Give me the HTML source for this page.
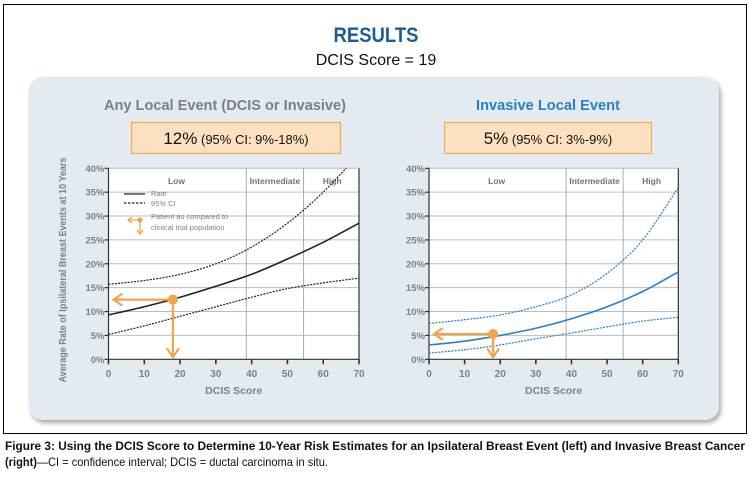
<!DOCTYPE html>
<html><head><meta charset="utf-8"><style>
html,body{margin:0;padding:0;background:#fff;width:753px;height:482px;overflow:hidden}
svg{display:block;font-family:"Liberation Sans",sans-serif}
</style></head><body>
<svg id="fig" width="753" height="482" viewBox="0 0 753 482">
<defs>
<filter id="sh" x="-5%" y="-5%" width="110%" height="115%"><feDropShadow dx="2" dy="3" stdDeviation="2.5" flood-color="#000" flood-opacity="0.35"/></filter>
<clipPath id="clipL"><rect x="108" y="168" width="252" height="192"/></clipPath>
<clipPath id="clipR"><rect x="429" y="168" width="250" height="192"/></clipPath>
</defs>
<rect x="3.5" y="4.5" width="743" height="429" fill="#fff" stroke="#000" stroke-width="1"/>
<text x="376" y="42" text-anchor="middle" font-size="21" font-weight="bold" fill="#1b5e93" textLength="85" lengthAdjust="spacingAndGlyphs">RESULTS</text>
<text x="376" y="65" text-anchor="middle" font-size="16" fill="#111">DCIS Score = 19</text>
<rect x="29" y="77" width="690" height="343" rx="14" fill="#e3ebf1" filter="url(#sh)"/>
<text x="225" y="110" text-anchor="middle" font-size="15" font-weight="bold" fill="#7c7f83" textLength="242" lengthAdjust="spacingAndGlyphs">Any Local Event (DCIS or Invasive)</text>
<text x="548" y="110" text-anchor="middle" font-size="15" font-weight="bold" fill="#2a7fc1" textLength="144" lengthAdjust="spacingAndGlyphs">Invasive Local Event</text>
<rect x="131.5" y="122.5" width="209" height="31" fill="#fde0bf" stroke="#f3a95a" stroke-width="1.2"/>
<text x="236" y="144" text-anchor="middle" fill="#111"><tspan font-size="17">12%</tspan><tspan font-size="13"> (95% CI: 9%-18%)</tspan></text>
<rect x="444.5" y="122.5" width="207" height="31" fill="#fde0bf" stroke="#f3a95a" stroke-width="1.2"/>
<text x="548" y="144" text-anchor="middle" fill="#111"><tspan font-size="17">5%</tspan><tspan font-size="13"> (95% CI: 3%-9%)</tspan></text>
<g id="left"></g>
<g id="right"></g>
<text x="5" y="450" font-size="12" font-weight="bold" fill="#111" textLength="740" lengthAdjust="spacingAndGlyphs">Figure 3: Using the DCIS Score to Determine 10-Year Risk Estimates for an Ipsilateral Breast Event (left) and Invasive Breast Cancer</text>
<text x="5" y="466" font-size="12" fill="#111" textLength="323" lengthAdjust="spacingAndGlyphs"><tspan font-weight="bold">(right)</tspan>—CI = confidence interval; DCIS = ductal carcinoma in situ.</text>
</svg>
<script>
const scores = [0,10,20,30,40,50,60,70];
const leftRate = [9.3,11,13,15.3,17.8,21,24.5,28.5];
const leftUpper = [15.7,16.5,17.8,20,23.5,28.5,35,43];
const leftLower = [5.2,7,9,11,13,14.8,16,17];
const rightRate = [3,3.8,5,6.5,8.5,11,14.2,18.3];
const rightUpper = [7.5,8.3,9.3,11,13.5,18,25,36];
const rightLower = [1.3,2,3,4.3,5.5,6.8,8,8.8];
const xTicks = [0,10,20,30,40,50,60,70];
const yTicks = [0,5,10,15,20,25,30,35,40];
const categoryBounds = [38.5,54.5];
const categoryLabels = ["Low","Intermediate","High"];
const categoryCenters = [19,46.5,62.5];
const leftPatient = [18,12.5];
const rightPatient = [18,5.3];
const NS="http://www.w3.org/2000/svg";
function mk(tag,attrs,parent){const e=document.createElementNS(NS,tag);for(const k in attrs)e.setAttribute(k,attrs[k]);parent.appendChild(e);return e;}
function smooth(pts){let d="M"+pts[0][0]+","+pts[0][1];for(let i=0;i<pts.length-1;i++){const p0=pts[Math.max(0,i-1)],p1=pts[i],p2=pts[i+1],p3=pts[Math.min(pts.length-1,i+2)];const c1=[p1[0]+(p2[0]-p0[0])/6,p1[1]+(p2[1]-p0[1])/6],c2=[p2[0]-(p3[0]-p1[0])/6,p2[1]-(p3[1]-p1[1])/6];d+=" C"+c1+" "+c2+" "+p2;}return d;}
function chart(g,x0,x1,clip,color,rate,upper,lower,patient,legend){
  const y0=359.3,y1=168.3;
  const X=v=>x0+(x1-x0)*v/70, Y=v=>y0+(y1-y0)*v/40;
  const bg=mk('rect',{x:x0,y:y1,width:x1-x0,height:y0-y1,fill:'#fff'},g);
  
  
  yTicks.forEach(t=>{
    if(t>0){const l=mk('line',{x1:x0,x2:x1,y1:Y(t),y2:Y(t),stroke:'#b9bcc0','stroke-width':1},g);
    
    }
    const tk=mk('line',{x1:x0-4,x2:x0,y1:Y(t),y2:Y(t),stroke:'#333','stroke-width':1.2},g);
    
    
    const tx=mk('text',{x:x0-4,y:Y(t)+3.5,'text-anchor':'end','font-size':9.5,'font-weight':'bold',fill:'#7d8186'},g);tx.textContent=t+'%';
    
    
  });
  categoryBounds.forEach(b=>{const l=mk('line',{x1:X(b),x2:X(b),y1:y1,y2:y0,stroke:'#aaadb1','stroke-width':1},g);
    
    });
  categoryLabels.forEach((c,i)=>{const t=mk('text',{x:X(categoryCenters[i]),y:184,'text-anchor':'middle','font-size':8.5,'font-weight':'bold',fill:'#6f7378'},g);t.textContent=c;
    
    });
  const ax=mk('path',{d:`M${x0},${y1}V${y0}H${x1}V${y1}`,fill:'none',stroke:'#333','stroke-width':1.2},g);
  
  
  xTicks.forEach(t=>{const l=mk('line',{x1:X(t),x2:X(t),y1:y0,y2:y0+5,stroke:'#333','stroke-width':1.6},g);
    
    
    const tx=mk('text',{x:X(t),y:377,'text-anchor':'middle','font-size':10,'font-weight':'bold',fill:'#7d8186'},g);tx.textContent=t;
    
    });
  const xt=mk('text',{x:(x0+x1)/2,y:394,'text-anchor':'middle','font-size':10.5,'font-weight':'bold',fill:'#7d8186'},g);xt.textContent='DCIS Score';
  
  
  const cg=mk('g',{'clip-path':`url(#${clip})`},g);
  [[upper,'upper-ci-line'],[lower,'lower-ci-line']].forEach(([s,n])=>{const p=mk('path',{d:smooth(scores.map((v,i)=>[X(v),Y(s[i])])),fill:'none',stroke:color,'stroke-width':1.2,'stroke-dasharray':'2,1.2'},cg);
    
    });
  const r=mk('path',{d:smooth(scores.map((v,i)=>[X(v),Y(rate[i])])),fill:'none',stroke:color,'stroke-width':1.6},cg);
  
  
  const px=X(patient[0]),py=Y(patient[1]),o='#f6a24b';
  const a1=mk('path',{d:`M${px},${py}H${x0+6} M${x0+14},${py-6}L${x0+5},${py}L${x0+14},${py+6} M${px},${py}V${y0-3} M${px-6},${y0-11}L${px},${y0-2}L${px+6},${y0-11}`,fill:'none',stroke:o,'stroke-width':2.2},g);
  
  
  const c=mk('circle',{cx:px,cy:py,r:5,fill:o},g);
  
  
  if(legend){
    const lg=mk('g',{},g);
    
    
    mk('line',{x1:124,x2:145,y1:194,y2:194,stroke:'#222','stroke-width':1.3},lg);
    mk('line',{x1:124,x2:145,y1:203,y2:203,stroke:'#222','stroke-width':1.3,'stroke-dasharray':'2.5,1.5'},lg);
    mk('path',{d:'M140,220H129 M132,217L128,220L132,223 M140,220V233 M137,230L140,234L143,230',fill:'none',stroke:o,'stroke-width':1.3},lg);
    mk('circle',{cx:140,cy:220,r:2.5,fill:o},lg);
    [['Rate',196],['95% CI',206],['Patient as compared to',219],['clinical trial population',230]].forEach(([s,y])=>{const t=mk('text',{x:151,y:y,'font-size':7.5,fill:'#7d8186'},lg);t.textContent=s;});
  }
}
chart(document.getElementById('left'),108.5,359,'clipL','#222',leftRate,leftUpper,leftLower,leftPatient,true);
chart(document.getElementById('right'),429,678.3,'clipR','#2a7fc1',rightRate,rightUpper,rightLower,rightPatient,false);
const yt=mk('text',{x:0,y:0,'text-anchor':'middle','font-size':10,'font-weight':'bold',fill:'#7d8186',transform:'translate(66,270) rotate(-90)',textLength:225,lengthAdjust:'spacingAndGlyphs'},document.getElementById('left'));
yt.textContent='Average Rate of Ipsilateral Breast Events at 10 Years';


</script>
</body></html>
